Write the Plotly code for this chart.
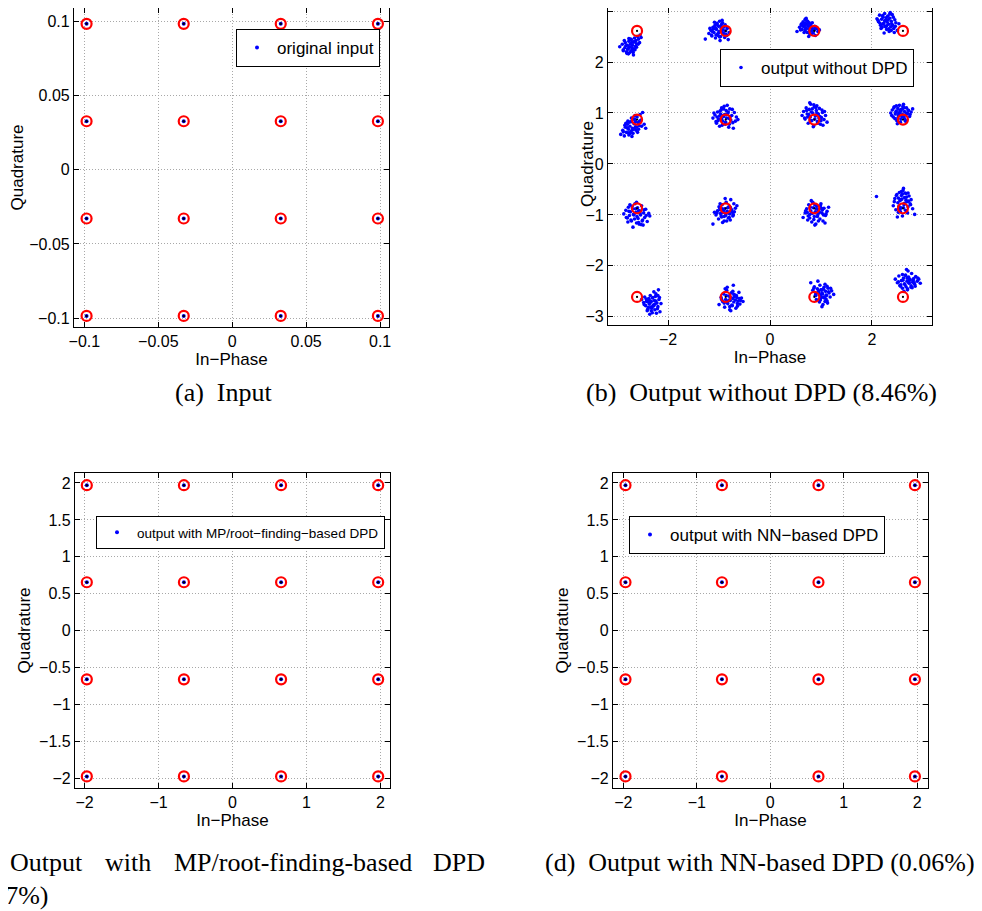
import plotly.graph_objects as go

# The page body has an 8 px margin, so the figure is drawn 8 px smaller and
# all layout positions below are given in page pixels and converted.
PAGE_W, PAGE_H = 982, 911
OFF = 8
W, H = PAGE_W - OFF, PAGE_H - OFF

# ---------------- data ----------------
levels_a = [-0.0985, -0.0328, 0.0328, 0.0985]      # (a) original input
levels_b = [-2.61, -0.87, 0.87, 2.61]              # (b) ideal reference
levels_cd = [-1.97, -0.657, 0.657, 1.97]           # (c),(d) ideal / outputs

# (b) output without DPD: read per cluster (I, Q), row by row from the top-left
noisy_I = [
    [-2.95,-2.90,-2.88,-2.85,-2.84,-2.82,-2.80,-2.79,-2.77,-2.76,-2.75,-2.74,-2.73,-2.72,-2.71,-2.70,-2.69,-2.68,-2.67,-2.66,-2.64,-2.63,-2.62,-2.60,-2.58,-2.56,-2.55,-2.53,-2.78,-2.70,
     -2.86,-2.81,-2.77,-2.69,-2.65,-2.62,-2.74,-2.83,-2.68,-2.59,-2.79,-2.71,-2.88,-2.66,-2.76],
    [-1.27,-1.20,-1.16,-1.14,-1.12,-1.10,-1.08,-1.07,-1.05,-1.04,-1.03,-1.01,-1.00,-0.99,-0.97,-0.96,-0.95,-0.93,-0.92,-0.90,-0.89,-0.87,-0.86,-0.84,-0.82,-0.80,-0.94,-1.06,-0.98,-1.11,
     -1.18,-1.09,-1.02,-0.96,-0.91,-1.13,-1.04,-0.99,-0.88,-1.07,-0.95,-1.01,-0.85,-1.15,-0.93],
    [0.53,0.58,0.61,0.63,0.65,0.66,0.68,0.69,0.70,0.71,0.72,0.73,0.74,0.75,0.76,0.77,0.78,0.79,0.80,0.82,0.83,0.85,0.87,0.89,0.91,0.94,0.97,0.71,0.76,0.68,
     0.62,0.67,0.72,0.78,0.83,0.88,0.70,0.64,0.81,0.74,0.86,0.69,0.77,0.92,0.60],
    [2.10,2.13,2.15,2.17,2.19,2.20,2.22,2.23,2.25,2.26,2.27,2.29,2.30,2.31,2.33,2.34,2.35,2.37,2.38,2.40,2.41,2.43,2.45,2.47,2.50,2.53,2.24,2.36,2.28,2.44,
     2.16,2.21,2.27,2.32,2.39,2.42,2.18,2.35,2.25,2.29,2.46,2.12,2.33,2.38,2.22],
    [-2.93,-2.89,-2.86,-2.84,-2.82,-2.80,-2.78,-2.77,-2.75,-2.73,-2.72,-2.70,-2.69,-2.67,-2.66,-2.64,-2.63,-2.61,-2.59,-2.57,-2.55,-2.53,-2.50,-2.47,-2.44,-2.79,-2.71,-2.65,-2.58,-2.85,
     -2.88,-2.80,-2.76,-2.70,-2.62,-2.56,-2.74,-2.68,-2.60,-2.83,-2.52,-2.66,-2.78,-2.64,-2.72],
    [-1.12,-1.08,-1.05,-1.03,-1.01,-0.99,-0.97,-0.95,-0.93,-0.91,-0.90,-0.88,-0.86,-0.85,-0.83,-0.81,-0.79,-0.77,-0.75,-0.73,-0.70,-0.66,-0.63,-0.94,-0.84,-0.89,-0.96,-0.80,-1.06,-0.72,
     -1.10,-1.02,-0.98,-0.92,-0.87,-0.82,-0.78,-0.74,-0.95,-1.04,-0.86,-0.68,-0.91,-0.80,-0.99],
    [0.63,0.66,0.69,0.71,0.73,0.75,0.77,0.79,0.80,0.82,0.84,0.86,0.87,0.89,0.91,0.93,0.95,0.97,0.99,1.01,1.03,1.06,1.09,1.12,0.78,0.85,0.92,0.96,0.74,1.04,
     0.68,0.72,0.79,0.83,0.88,0.92,0.98,1.02,1.07,0.76,0.86,0.94,0.81,0.90,1.00],
    [2.37,2.40,2.42,2.44,2.46,2.48,2.49,2.51,2.52,2.54,2.55,2.57,2.58,2.60,2.61,2.63,2.64,2.66,2.68,2.70,2.72,2.74,2.77,2.80,2.50,2.56,2.62,2.45,2.67,2.53,
     2.39,2.43,2.47,2.51,2.55,2.59,2.63,2.67,2.71,2.75,2.48,2.57,2.65,2.53,2.61],
    [-2.87,-2.83,-2.80,-2.78,-2.76,-2.74,-2.72,-2.70,-2.68,-2.66,-2.65,-2.63,-2.61,-2.60,-2.58,-2.56,-2.54,-2.52,-2.50,-2.48,-2.46,-2.44,-2.41,-2.38,-2.36,-2.69,-2.62,-2.57,-2.75,-2.53,
     -2.82,-2.77,-2.73,-2.67,-2.64,-2.59,-2.55,-2.51,-2.47,-2.43,-2.71,-2.62,-2.58,-2.79,-2.49],
    [-1.12,-1.06,-1.03,-1.01,-0.99,-0.97,-0.95,-0.94,-0.92,-0.90,-0.89,-0.87,-0.86,-0.84,-0.82,-0.81,-0.79,-0.77,-0.75,-0.73,-0.71,-0.68,-0.65,-0.93,-0.88,-0.83,-0.98,-0.78,-1.09,-0.70,
     -1.04,-1.00,-0.96,-0.91,-0.87,-0.83,-0.80,-0.76,-0.72,-0.94,-0.85,-0.98,-0.78,-0.90,-0.74],
    [0.65,0.69,0.72,0.74,0.76,0.78,0.80,0.82,0.84,0.85,0.87,0.89,0.90,0.92,0.94,0.96,0.98,1.00,1.02,1.04,1.06,1.09,1.12,1.15,0.81,0.88,0.95,0.99,0.73,1.08,
     0.70,0.75,0.79,0.83,0.86,0.91,0.93,0.97,1.01,1.05,1.10,0.88,0.95,0.78,1.03],
    [2.09,2.42,2.45,2.47,2.49,2.51,2.52,2.54,2.55,2.57,2.58,2.60,2.61,2.63,2.64,2.66,2.67,2.69,2.71,2.73,2.75,2.77,2.80,2.84,2.50,2.59,2.65,2.56,2.62,2.70,
     2.44,2.48,2.53,2.57,2.60,2.64,2.68,2.72,2.76,2.52,2.62,2.58,2.67,2.55,2.71],
    [-2.52,-2.48,-2.46,-2.44,-2.42,-2.40,-2.38,-2.37,-2.35,-2.34,-2.33,-2.31,-2.30,-2.29,-2.27,-2.26,-2.24,-2.22,-2.20,-2.18,-2.16,-2.14,-2.36,-2.28,-2.41,-2.25,-2.32,-2.19,-2.39,-2.23,
     -2.47,-2.43,-2.39,-2.35,-2.31,-2.28,-2.24,-2.21,-2.17,-2.33,-2.26,-2.37,-2.30,-2.42,-2.20],
    [-1.00,-0.96,-0.93,-0.91,-0.89,-0.87,-0.85,-0.83,-0.81,-0.79,-0.78,-0.76,-0.74,-0.73,-0.71,-0.69,-0.67,-0.65,-0.63,-0.61,-0.59,-0.56,-0.53,-0.84,-0.77,-0.70,-0.88,-0.64,-0.80,-0.72,
     -0.95,-0.90,-0.86,-0.82,-0.78,-0.75,-0.71,-0.68,-0.64,-0.60,-0.79,-0.73,-0.86,-0.66,-0.58],
    [0.80,0.84,0.87,0.89,0.91,0.93,0.95,0.97,0.98,1.00,1.01,1.03,1.04,1.06,1.07,1.09,1.10,1.12,1.14,1.16,1.18,1.21,1.25,0.94,1.02,1.08,0.99,1.13,0.90,1.05,
     0.86,0.90,0.95,0.99,1.02,1.05,1.08,1.11,1.15,1.19,0.97,1.06,1.12,1.00,1.10],
    [2.46,2.50,2.53,2.55,2.58,2.60,2.62,2.64,2.66,2.67,2.69,2.70,2.72,2.73,2.75,2.77,2.78,2.80,2.82,2.84,2.86,2.89,2.92,2.95,2.63,2.71,2.79,2.68,2.57,2.74,
     2.52,2.56,2.61,2.65,2.69,2.73,2.77,2.81,2.85,2.90,2.66,2.74,2.60,2.83,2.70],
]
noisy_Q = [
    [2.30,2.35,2.24,2.28,2.38,2.20,2.33,2.26,2.41,2.18,2.30,2.36,2.22,2.44,2.28,2.33,2.19,2.39,2.26,2.47,2.31,2.42,2.36,2.50,2.45,2.38,2.53,2.48,2.16,2.23,
     2.42,2.17,2.46,2.20,2.24,2.29,2.45,2.32,2.14,2.35,2.25,2.39,2.22,2.40,2.29],
    [2.45,2.56,2.62,2.51,2.68,2.58,2.72,2.47,2.64,2.76,2.55,2.70,2.60,2.80,2.50,2.66,2.74,2.57,2.63,2.69,2.48,2.61,2.54,2.66,2.44,2.58,2.82,2.53,2.42,2.65,
     2.66,2.78,2.52,2.70,2.56,2.60,2.74,2.49,2.73,2.67,2.61,2.57,2.52,2.53,2.77],
    [2.60,2.68,2.73,2.64,2.79,2.70,2.76,2.62,2.83,2.67,2.74,2.58,2.80,2.71,2.65,2.77,2.55,2.69,2.73,2.61,2.66,2.57,2.63,2.52,2.68,2.60,2.63,2.86,2.50,2.72,
     2.75,2.58,2.81,2.61,2.77,2.70,2.66,2.71,2.55,2.76,2.64,2.84,2.59,2.66,2.63],
    [2.85,2.79,2.92,2.72,2.84,2.68,2.88,2.76,2.95,2.70,2.82,2.64,2.78,2.90,2.74,2.60,2.86,2.69,2.80,2.93,2.72,2.66,2.83,2.77,2.62,2.75,2.57,2.97,2.87,2.58,
     2.76,2.91,2.69,2.83,2.75,2.88,2.66,2.94,2.81,2.71,2.70,2.82,2.65,2.62,2.74],
    [0.58,0.66,0.55,0.72,0.62,0.78,0.68,0.57,0.74,0.64,0.83,0.70,0.60,0.79,0.88,0.73,0.66,0.92,0.81,0.75,0.97,0.86,1.01,0.78,0.70,0.84,0.54,0.95,0.68,0.76,
     0.63,0.71,0.82,0.67,0.72,0.84,0.60,0.88,0.62,0.80,0.74,0.69,0.61,0.83,0.90],
    [0.90,0.96,0.80,1.02,0.88,0.74,0.98,1.10,0.84,0.93,1.13,0.78,1.05,0.90,0.99,0.72,1.08,0.86,0.95,0.81,1.01,0.92,0.87,0.76,1.15,0.97,1.06,0.89,0.83,0.70,
     1.00,0.85,1.04,0.95,0.82,1.02,0.93,1.07,0.88,0.92,0.97,0.84,1.08,0.78,0.94],
    [0.95,1.03,0.88,1.10,0.98,0.80,1.07,0.92,1.17,0.85,1.00,0.75,1.12,0.94,1.05,0.83,0.98,1.09,0.78,0.91,1.01,0.87,0.95,0.82,1.20,0.73,1.14,0.90,0.92,0.76,
     0.90,1.05,0.85,1.08,0.88,1.00,0.93,1.06,1.03,0.97,1.16,0.80,1.02,1.11,0.85],
    [1.00,1.06,0.92,1.12,0.98,1.04,0.85,1.09,0.95,1.15,1.01,0.88,1.07,0.97,1.13,0.91,1.03,0.84,1.10,0.99,1.05,0.93,1.02,1.08,0.79,0.82,1.17,0.89,0.96,1.00,
     0.95,1.10,1.02,0.90,1.05,0.93,1.11,1.00,1.06,0.97,1.14,1.04,0.87,0.99,1.09],
    [-0.98,-0.91,-1.06,-0.85,-1.01,-0.94,-1.12,-0.88,-0.99,-1.08,-0.78,-0.95,-1.03,-0.86,-1.15,-0.92,-1.00,-0.82,-1.10,-0.96,-1.05,-0.89,-1.13,-0.97,-1.02,-1.24,-0.75,-1.18,-0.80,-1.19,
     -1.05,-0.93,-1.10,-1.00,-0.88,-1.07,-0.96,-1.12,-0.90,-1.01,-0.83,-1.16,-0.92,-1.14,-1.20],
    [-1.18,-1.00,-0.92,-1.08,-0.86,-0.97,-1.04,-0.80,-0.95,-1.12,-0.88,-1.01,-0.75,-0.93,-1.06,-0.84,-0.98,-0.70,-0.90,-1.02,-0.78,-0.87,-0.82,-1.15,-0.68,-0.96,-0.90,-1.10,-0.95,-0.94,
     -0.96,-0.84,-1.02,-0.91,-0.97,-0.86,-1.05,-0.92,-1.00,-0.88,-1.12,-0.78,-0.85,-1.03,-0.95],
    [-1.05,-0.96,-0.88,-1.10,-0.80,-0.99,-0.92,-1.14,-0.75,-0.86,-1.03,-0.94,-1.18,-0.83,-0.99,-0.90,-1.08,-0.78,-0.96,-1.12,-0.87,-1.01,-0.93,-0.85,-0.72,-1.20,-0.91,-0.82,-0.95,-1.16,
     -0.92,-1.02,-0.85,-0.97,-1.09,-0.88,-1.03,-0.95,-0.87,-1.00,-0.98,-0.80,-1.12,-1.06,-0.90],
    [-0.64,-0.82,-0.68,-0.90,-0.60,-0.76,-0.95,-0.56,-0.72,-0.86,-0.62,-1.02,-0.52,-0.80,-0.66,-0.91,-0.58,-0.74,-0.84,-0.63,-0.78,-0.70,-0.88,-0.99,-1.04,-0.69,-0.57,-0.94,-0.48,-0.96,
     -0.74,-0.62,-0.83,-0.70,-0.59,-0.77,-0.65,-0.73,-0.80,-0.67,-0.86,-0.54,-0.71,-0.89,-0.57],
    [-2.66,-2.72,-2.61,-2.78,-2.69,-2.85,-2.64,-2.75,-2.58,-2.81,-2.70,-2.92,-2.62,-2.77,-2.68,-2.86,-2.55,-2.73,-2.80,-2.66,-2.90,-2.74,-2.95,-2.51,-2.88,-2.60,-2.83,-2.47,-2.71,-2.93,
     -2.76,-2.65,-2.82,-2.72,-2.63,-2.78,-2.69,-2.84,-2.62,-2.88,-2.75,-2.67,-2.79,-2.70,-2.58],
    [-2.76,-2.62,-2.70,-2.55,-2.81,-2.66,-2.48,-2.74,-2.59,-2.86,-2.68,-2.53,-2.78,-2.64,-2.71,-2.57,-2.83,-2.62,-2.69,-2.52,-2.75,-2.63,-2.70,-2.42,-2.88,-2.60,-2.45,-2.79,-2.67,-2.38,
     -2.66,-2.73,-2.58,-2.69,-2.61,-2.77,-2.56,-2.67,-2.74,-2.64,-2.80,-2.50,-2.71,-2.58,-2.68],
    [-2.33,-2.48,-2.41,-2.58,-2.66,-2.45,-2.52,-2.71,-2.38,-2.60,-2.47,-2.55,-2.76,-2.42,-2.63,-2.50,-2.57,-2.69,-2.44,-2.53,-2.61,-2.49,-2.56,-2.30,-2.80,-2.36,-2.67,-2.73,-2.54,-2.62,
     -2.44,-2.58,-2.49,-2.64,-2.53,-2.46,-2.70,-2.58,-2.51,-2.44,-2.56,-2.61,-2.40,-2.47,-2.65],
    [-2.26,-2.33,-2.20,-2.38,-2.29,-2.44,-2.24,-2.35,-2.18,-2.41,-2.30,-2.47,-2.22,-2.34,-2.27,-2.39,-2.15,-2.32,-2.25,-2.36,-2.21,-2.30,-2.26,-2.34,-2.50,-2.10,-2.43,-2.07,-2.37,-2.28,
     -2.31,-2.40,-2.28,-2.37,-2.24,-2.33,-2.42,-2.28,-2.40,-2.24,-2.19,-2.26,-2.17,-2.33,-2.45],
]

legend_names = ["original input", "output without DPD",
                "output with MP/root\u2212finding\u2212based DPD", "output with NN\u2212based DPD"]
captions = ["(a)  Input", "(b)  Output without DPD (8.46%)",
            "(c)  Output with MP/root-finding-based DPD (0.07%)", "(d)  Output with NN-based DPD (0.06%)"]
x_title = "In\u2212Phase"
y_title = "Quadrature"

# ---------------- layout helpers (page pixels -> paper) ----------------
def px(x):
    return min(1.0, max(0.0, (x - OFF) / W))

def py(y):
    return min(1.0, max(0.0, 1 - (y - OFF) / H))

def grid(levels):
    xs, ys = [], []
    for q in reversed(levels):
        for i in levels:
            xs.append(i)
            ys.append(q)
    return xs, ys

BLUE = "#0000ff"
RED = "#ff0000"
FONT = "Liberation Sans, Arial, sans-serif"
SERIF = "Liberation Serif, Times New Roman, serif"
CAP = 26

fig = go.Figure()

panels = [
    dict(ax="x", ay="y", leg="legend", dx=(74, 389), dy=(8, 327),
         xr=[-0.107, 0.106], yr=[-0.106, 0.1092], xd=0.05, yd=0.05,
         legpos=(236, 29), legfont=17),
    dict(ax="x2", ay="y2", leg="legend2", dx=(608, 932), dy=(8, 325),
         xr=[-3.18, 3.18], yr=[-3.16, 3.06], xd=2, yd=1,
         legpos=(720, 49), legfont=17),
    dict(ax="x3", ay="y3", leg="legend3", dx=(75, 390), dy=(473, 788),
         xr=[-2.13, 2.13], yr=[-2.127, 2.135], xd=1, yd=0.5,
         legpos=(96, 516), legfont=13.5),
    dict(ax="x4", ay="y4", leg="legend4", dx=(613, 928), dy=(473, 788),
         xr=[-2.14, 2.148], yr=[-2.127, 2.135], xd=1, yd=0.5,
         legpos=(629, 516), legfont=17),
]

level_sets = [levels_a, levels_b, levels_cd, levels_cd]

for k, p in enumerate(panels):
    ideal_x, ideal_y = grid(level_sets[k])
    if k == 1:
        bx = [v for c in noisy_I for v in c]
        by = [v for c in noisy_Q for v in c]
    else:
        bx, by = ideal_x, ideal_y
    fig.add_trace(go.Scatter(
        x=bx, y=by, mode="markers", name=legend_names[k],
        marker=dict(color=BLUE, size=4 if k != 1 else 3.6, line=dict(width=0)),
        xaxis=p["ax"], yaxis=p["ay"], legend=p["leg"], showlegend=True))
    fig.add_trace(go.Scatter(
        x=ideal_x, y=ideal_y, mode="markers", name="ideal",
        marker=dict(symbol="circle-open", color=RED, size=10, line=dict(width=2.2, color=RED)),
        xaxis=p["ax"], yaxis=p["ay"], showlegend=False))
    fig.add_trace(go.Scatter(
        x=ideal_x, y=ideal_y, mode="markers", name="ideal centre",
        marker=dict(color="black", size=2.2 if k == 1 else 2.5, line=dict(width=0)),
        xaxis=p["ax"], yaxis=p["ay"], showlegend=False))

layout = dict(
    width=W, height=H, margin=dict(l=0, r=0, t=0, b=0),
    paper_bgcolor="white", plot_bgcolor="white",
    font=dict(family=FONT, size=16, color="black"),
    showlegend=True,
)

axis_common = dict(
    showline=True, linecolor="black", linewidth=1.2, mirror="allticks",
    ticks="inside", ticklen=5, tickcolor="black", tickwidth=1,
    showgrid=True, gridcolor="#a8a8a8", griddash="1px,2px", gridwidth=1,
    zeroline=False, automargin=False,
    tickfont=dict(family=FONT, size=16, color="black"),
)

for k, p in enumerate(panels):
    sx = "" if k == 0 else str(k + 1)
    layout["xaxis" + sx] = dict(
        axis_common, domain=[px(p["dx"][0]), px(p["dx"][1])], range=p["xr"],
        dtick=p["xd"], tick0=0, anchor="y" + sx,
        title=dict(text=x_title, font=dict(family=FONT, size=17), standoff=0))
    ydict = dict(
        axis_common, domain=[py(p["dy"][1]), py(p["dy"][0])], range=p["yr"],
        dtick=p["yd"], tick0=0, anchor="x" + sx)
    if k != 1:
        ydict["title"] = dict(text=y_title, font=dict(family=FONT, size=17), standoff=4)
    layout["yaxis" + sx] = ydict
    layout[p["leg"]] = dict(
        x=px(p["legpos"][0]), y=py(p["legpos"][1]), xanchor="left", yanchor="top",
        bgcolor="white", bordercolor="black", borderwidth=1,
        font=dict(family=FONT, size=p["legfont"], color="black"),
        itemwidth=30, tracegroupgap=0)

fig.update_layout(**layout)

# y-axis title of (b): MATLAB sets it tight against the short tick labels
fig.add_annotation(xref="paper", yref="paper", x=px(587), y=py(164), textangle=-90,
                   xanchor="center", yanchor="middle", text=y_title, showarrow=False,
                   font=dict(family=FONT, size=17, color="black"))

for text, cx, cy in [(captions[0], 224, 392), (captions[1], 761, 392)]:
    fig.add_annotation(xref="paper", yref="paper", x=px(cx), y=py(cy),
                       xanchor="center", yanchor="middle", text=text, showarrow=False,
                       font=dict(family=SERIF, size=CAP, color="black"))
fig.add_annotation(xref="paper", yref="paper", x=px(977), y=py(862),
                   xanchor="right", yanchor="middle", text=captions[3], showarrow=False,
                   font=dict(family=SERIF, size=CAP, color="black"))

# caption (c): justified first line, cropped at the left edge of the page
words_c = ["Output", "with", "MP/root-finding-based", "DPD"]
word_x = [8, 103, 171.7, 486.7]
for w, wx in zip(words_c, word_x):
    fig.add_annotation(xref="paper", yref="paper", x=px(wx), y=py(862),
                       xanchor="right" if w == "DPD" else "left", yanchor="middle",
                       text=w, showarrow=False,
                       font=dict(family=SERIF, size=CAP, color="black"))
fig.add_annotation(xref="paper", yref="paper", x=(50 - OFF) / W, y=py(895),
                   xanchor="right", yanchor="middle", text="(0.07%)", showarrow=False,
                   font=dict(family=SERIF, size=CAP, color="black"))

fig.write_html("out.html")
